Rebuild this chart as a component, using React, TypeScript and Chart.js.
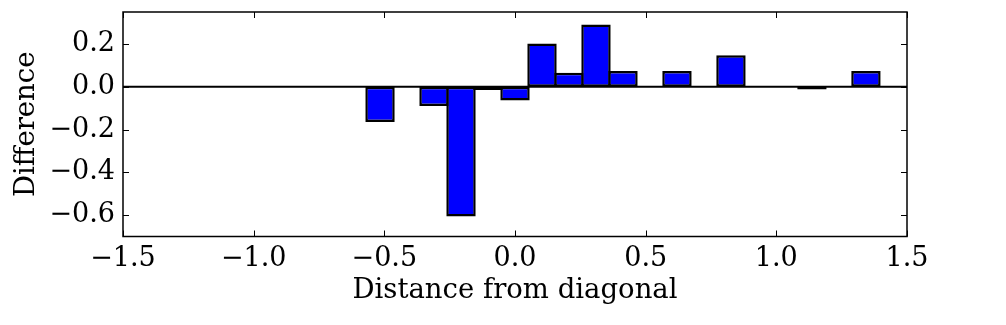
import React, { useEffect, useRef } from "react";
import { Chart, registerables } from "chart.js";

Chart.register(...registerables);

// ---- data ----
const binCenters = [-0.5165, -0.3099, -0.2066, -0.1033, 0.0, 0.1033, 0.2066, 0.3099, 0.4132, 0.6198, 0.8264, 1.1363, 1.3429];
const differences = [-0.164, -0.09, -0.606, -0.015, -0.064, 0.203, 0.066, 0.292, 0.074, 0.074, 0.148, -0.012, 0.074];
const xTicks = [-1.5, -1.0, -0.5, 0.0, 0.5, 1.0, 1.5];
const yTicks = [-0.6, -0.4, -0.2, 0.0, 0.2];
const xLabel = "Distance from diagonal";
const yLabel = "Difference";

const FONT = "DejaVu Serif";
const fmt = (v: number) => (v < -1e-9 ? "\u2212" : "") + Math.abs(v).toFixed(1);

const framePlugin = {
  id: "mplFrame",
  afterDatasetsDraw(chart: any) {
    const { ctx, chartArea: a, scales } = chart;
    const xs = scales.x;
    const ys = scales.y;
    ctx.save();
    ctx.strokeStyle = "#000";
    // zero line
    const y0 = ys.getPixelForValue(0);
    ctx.lineWidth = 2;
    ctx.beginPath();
    ctx.moveTo(a.left, y0);
    ctx.lineTo(a.right, y0);
    ctx.stroke();
    // ticks inside, all four sides
    const L = 6;
    ctx.lineWidth = 1;
    ctx.beginPath();
    xs.ticks.forEach((t: any) => {
      const px = Math.round(xs.getPixelForValue(t.value)) + 0.5;
      ctx.moveTo(px, a.bottom);
      ctx.lineTo(px, a.bottom - L);
      ctx.moveTo(px, a.top);
      ctx.lineTo(px, a.top + L);
    });
    ys.ticks.forEach((t: any) => {
      const py = Math.round(ys.getPixelForValue(t.value)) + 0.5;
      ctx.moveTo(a.left, py);
      ctx.lineTo(a.left + L, py);
      ctx.moveTo(a.right, py);
      ctx.lineTo(a.right - L, py);
    });
    ctx.stroke();
    // frame
    ctx.lineWidth = 1.5;
    ctx.strokeRect(a.left, a.top, a.right - a.left, a.bottom - a.top);
    ctx.restore();
  },
};

export default function App() {
  const ref = useRef<HTMLCanvasElement | null>(null);

  useEffect(() => {
    if (!ref.current) return;
    const chart = new Chart(ref.current, {
      type: "bar",
      data: {
        datasets: [
          {
            data: binCenters.map((c, i) => ({ x: c, y: differences[i] })),
            backgroundColor: "#0000ff",
            borderColor: "#000000",
            borderWidth: 2.5,
            borderSkipped: false,
            barPercentage: 1.09,
            categoryPercentage: 1,
          },
        ],
      },
      options: {
        responsive: false,
        animation: false,
        devicePixelRatio: 1,
        layout: { padding: { top: 12, right: 99, bottom: 0, left: 0 } },
        plugins: { legend: { display: false }, tooltip: { enabled: false } },
        scales: {
          x: {
            type: "linear",
            min: -1.5,
            max: 1.5,
            offset: false,
            grid: { display: false, drawTicks: false },
            border: { display: false },
            afterBuildTicks: (s: any) => {
              s.ticks = xTicks.map((v) => ({ value: v }));
            },
            afterFit: (s: any) => {
              s.height = 88.5;
              s.paddingLeft = 0;
              s.paddingRight = 0;
            },
            ticks: {
              callback: (v: any) => fmt(Number(v)),
              font: { family: FONT, size: 27 },
              color: "#000",
              padding: 6,
              maxRotation: 0,
              autoSkip: false,
            },
            title: {
              display: true,
              text: xLabel,
              font: { family: FONT, size: 27.5 },
              color: "#000",
              padding: { top: 0, bottom: 18 },
            },
          },
          y: {
            type: "linear",
            min: -0.7,
            max: 0.35,
            grid: { display: false, drawTicks: false },
            border: { display: false },
            afterBuildTicks: (s: any) => {
              s.ticks = yTicks.map((v) => ({ value: v }));
            },
            afterFit: (s: any) => {
              s.width = 123;
              s.paddingTop = 0;
              s.paddingBottom = 0;
            },
            ticks: {
              callback: (v: any) => fmt(Number(v)),
              font: { family: FONT, size: 27 },
              color: "#000",
              padding: 8,
              autoSkip: false,
            },
            title: {
              display: true,
              text: yLabel,
              font: { family: FONT, size: 27.5 },
              color: "#000",
              padding: { top: 10, bottom: 0 },
            },
          },
        },
      },
      plugins: [framePlugin],
    } as any);
    return () => chart.destroy();
  }, []);

  return (
    <div style={{ position: "absolute", left: 0, top: 0, width: 1006, height: 325, background: "#fff" }}>
      <canvas ref={ref} width={1006} height={325} style={{ display: "block" }} />
    </div>
  );
}
